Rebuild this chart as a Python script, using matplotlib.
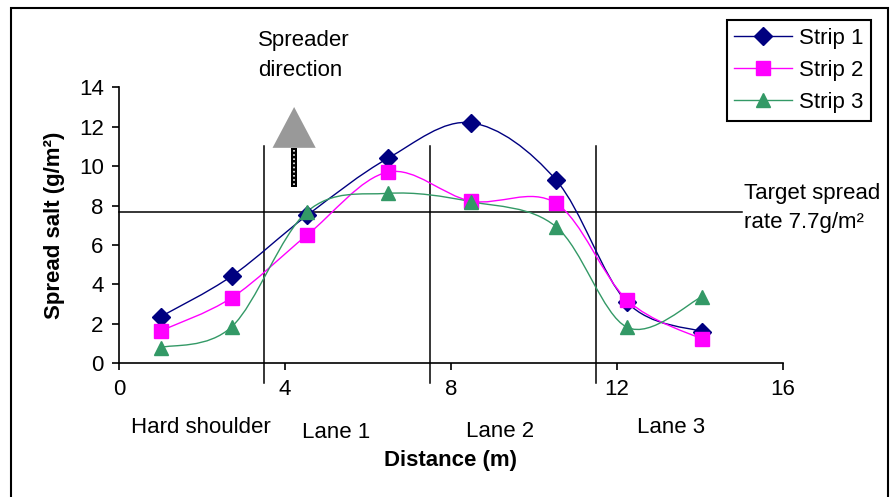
import numpy as np
import matplotlib.pyplot as plt
from matplotlib.path import Path
from matplotlib.patches import PathPatch, Polygon, Rectangle
from matplotlib.lines import Line2D

plt.rcParams['font.family'] = ['Liberation Sans', 'DejaVu Sans']

# distance across the road (m)
distance = [1.0, 2.72, 4.53, 6.48, 8.48, 10.53, 12.24, 14.05]

# spread salt (g/m2) per strip
strip1 = [2.36, 4.43, 7.5, 10.4, 12.2, 9.3, 3.1, 1.6]
strip2 = [1.64, 3.33, 6.5, 9.7, 8.23, 8.12, 3.22, 1.22]
strip3 = [0.8, 1.86, 7.69, 8.62, 8.2, 6.93, 1.83, 3.38]

series_names = ['Strip 1', 'Strip 2', 'Strip 3']
colors = ['#000080', '#FF00FF', '#339966']
markers = ['D', 's', '^']
msizes = [9.5, 10, 10]

lane_edges = [3.5, 7.5, 11.5]
lane_names = ['Hard shoulder', 'Lane 1', 'Lane 2', 'Lane 3']
lane_label_x = [1.98, 5.23, 9.18, 13.3]
lane_label_y = [-3.28, -3.5, -3.45, -3.28]
target = 7.7

fs = 16


def smooth_path(x, y):
    # excel style smoothed line: cubic bezier through every point
    x = np.asarray(x, float)
    y = np.asarray(y, float)
    n = len(x)
    verts = [(x[0], y[0])]
    codes = [Path.MOVETO]
    for i in range(n - 1):
        i0 = max(i - 1, 0)
        i3 = min(i + 2, n - 1)
        c1 = (x[i] + (x[i + 1] - x[i0]) / 6, y[i] + (y[i + 1] - y[i0]) / 6)
        c2 = (x[i + 1] - (x[i3] - x[i]) / 6, y[i + 1] - (y[i3] - y[i]) / 6)
        verts += [c1, c2, (x[i + 1], y[i + 1])]
        codes += [Path.CURVE4] * 3
    return Path(verts, codes)


fig = plt.figure(figsize=(8.9, 4.97), dpi=100)
ax = fig.add_axes([119 / 890, 1 - 363.3 / 497, (783 - 119) / 890, (363.3 - 87.3) / 497])

# outer chart border
fig.patches.append(Rectangle((11 / 890, -0.02), 877 / 890, 1.02 - 7.5 / 497,
                             transform=fig.transFigure, fill=False,
                             edgecolor='black', linewidth=1.5))

handles = []
for ys, name, c, m, ms in zip([strip1, strip2, strip3], series_names, colors, markers, msizes):
    ax.add_patch(PathPatch(smooth_path(distance, ys), fill=False, edgecolor=c, linewidth=1.0, zorder=3))
    ax.plot(distance, ys, linestyle='none', marker=m, markersize=ms, color=c, zorder=4)
    handles.append(Line2D([], [], color=c, marker=m, markersize=ms, linewidth=1.0, label=name))

# target line and lane boundaries
ax.plot([0, 15], [target, target], color='black', linewidth=1.1, zorder=2, clip_on=False)
for xe in lane_edges:
    ax.plot([xe, xe], [-1, 11], color='black', linewidth=1.1, zorder=2, clip_on=False)

# spreader direction arrow
ax.add_patch(Polygon([(3.7, 10.93), (4.74, 10.93), (4.22, 13.0)], closed=True,
                     facecolor='#999999', edgecolor='none', zorder=5))
ax.add_patch(Rectangle((4.15, 8.95), 0.14, 1.98, facecolor='black', edgecolor='none', zorder=5))
ax.plot([4.22, 4.22], [9.05, 10.85], color='white', linestyle=(0, (1, 1.5)), linewidth=1.2, zorder=6)

ax.text(3.35, 15.6, 'Spreader\ndirection', fontsize=fs, ha='left', va='center',
        linespacing=1.55, clip_on=False)
ax.text(15.07, 7.9, 'Target spread\nrate 7.7g/m²', fontsize=fs, ha='left', va='center',
        linespacing=1.5, clip_on=False)
for lx, ly, ln in zip(lane_label_x, lane_label_y, lane_names):
    ax.text(lx, ly, ln, fontsize=fs, ha='center', va='center', clip_on=False)

ax.set_xlim(0, 16)
ax.set_ylim(0, 14)
ax.set_xticks([0, 4, 8, 12, 16])
ax.set_yticks(np.arange(0, 15, 2))
ax.tick_params(labelsize=fs, direction='out', length=5, width=1.2, pad=6)
for s in ['top', 'right']:
    ax.spines[s].set_visible(False)
for s in ['left', 'bottom']:
    ax.spines[s].set_linewidth(1.2)

ax.set_xlabel('Distance (m)', fontsize=fs, fontweight='bold', labelpad=36)
ax.set_ylabel('Spread salt (g/m²)', fontsize=fs, fontweight='bold', labelpad=10)

leg = fig.legend(handles=handles, loc='upper right', bbox_to_anchor=(871 / 890, 1 - 20 / 497),
                 fontsize=fs, frameon=True, fancybox=False, edgecolor='black', framealpha=1,
                 handlelength=2.6, labelspacing=0.5, borderpad=0.35, handletextpad=0.3,
                 borderaxespad=0)
leg.get_frame().set_linewidth(1.5)

fig.savefig('out.png', dpi=100)
